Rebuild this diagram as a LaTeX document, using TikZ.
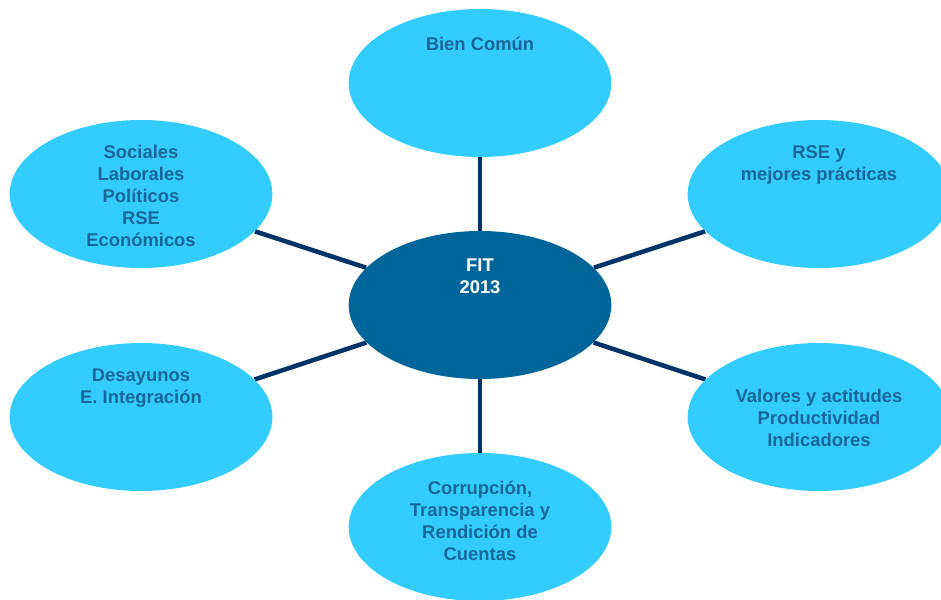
\documentclass[tikz,border=0pt]{standalone}
\usepackage{fontspec}
\setmainfont{Liberation Sans}
\usetikzlibrary{shapes.geometric,backgrounds}
\definecolor{hoja}{HTML}{33CCFF}
\definecolor{centro}{HTML}{006699}
\definecolor{linea}{HTML}{003366}
\definecolor{letra}{HTML}{1A6699}
\tikzset{
	hojas/.style={ellipse,fill=hoja,minimum width=197pt,minimum height=111pt,inner sep=0pt},
	texto/.style={align=center,font=\fontsize{13.8}{16.5}\selectfont\bfseries,text=letra,inner sep=0pt},
	rama/.style={draw=linea,line width=3.4pt}
}
\begin{document}
\begin{tikzpicture}[x=0.75pt,y=-0.75pt]
	\useasboundingbox (0,0) rectangle (941,599);
	\node[hojas,fill=centro] (fit) at (480,305) {};
	\foreach \n/\x/\y in {bien/480/83, rse/819/194,
		valores/819/417, corrup/480/527, desay/141/417, sociales/141/194}
	\node[hojas] (\n) at (\x,\y) {};
	\begin{pgfonlayer}{background}
	\foreach \n in {bien,rse,valores,corrup,desay,sociales}
	\draw[rama] (fit)--(\n);
	\end{pgfonlayer}
	\foreach \n/\x/\y/\texn in {bienT/480/44/{Bien Común},
		rseT/819/165/{RSE y\\mejores prácticas},
		valoresT/819/418/{Valores y actitudes\\Productividad\\Indicadores},
		corrupT/480/521/{Corrupción,\\Transparencia y\\Rendición de\\Cuentas},
		desayT/141/388/{Desayunos\\E. Integración},
		socialesT/141/196/{Sociales\\Laborales\\Políticos\\RSE\\Económicos}}
	\node[texto] (\n) at (\x,\y) {\texn};
	\node[texto,text=white] (fitT) at (480,276) {FIT\\2013};
\end{tikzpicture}
\end{document}
